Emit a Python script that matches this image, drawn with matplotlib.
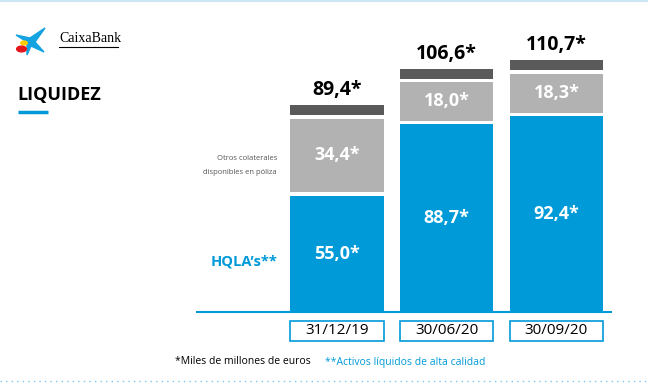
import numpy as np
import matplotlib.pyplot as plt
import matplotlib.transforms as mtrans
from matplotlib.patches import Rectangle, Polygon, Circle

# data (miles de millones de euros)
fechas = ["31/12/19", "30/06/20", "30/09/20"]
hqla = [55.0, 88.7, 92.4]
otros = [34.4, 18.0, 18.3]
totales = [89.4, 106.6, 110.7]

azul = "#009ad9"
gris = "#b2b2b2"
gris_osc = "#5a5a5a"

W, H = 648, 383
fig = plt.figure(figsize=(W / 100, H / 100), dpi=100)

def fx(px):
    return px / W

def fy(py):
    return 1 - py / H

# axes: baseline at y=312px, from x=196 to 612
ax = fig.add_axes([fx(196), fy(312), fx(612) - fx(196), (312 - 20) / H])
ax.set_xlim(-1.285, 2.506)
ax.set_ylim(0, 138)
ax.axis("off")

x = np.arange(len(fechas))
ancho = 0.85
hueco = 1.8
tapa = 4.6

hqla = np.array(hqla)
otros = np.array(otros)
ax.bar(x, hqla, width=ancho, color=azul)
ax.bar(x, otros, bottom=hqla + hueco, width=ancho, color=gris)
tope = hqla + otros + 2 * hueco
ax.bar(x, tapa, bottom=tope, width=ancho, color=gris_osc)

fnt = "Open Sans"
for i in range(len(fechas)):
    ax.text(x[i], hqla[i] / 2, f"{hqla[i]:.1f}*".replace(".", ","), ha="center", va="center",
            color="white", fontsize=13, fontweight="bold", family=fnt)
    ax.text(x[i], hqla[i] + hueco + otros[i] / 2, f"{otros[i]:.1f}*".replace(".", ","),
            ha="center", va="center", color="white", fontsize=13, fontweight="bold", family=fnt)
    ax.text(x[i], tope[i] + tapa + 2.5, f"{totales[i]:.1f}*".replace(".", ","),
            ha="center", va="bottom", color="black", fontsize=14, fontweight="bold", family=fnt)

# baseline
ax.plot([0, 1], [0, 0], transform=ax.transAxes, color=azul, lw=1.5, clip_on=False,
        solid_capstyle="butt")

# date boxes
tr = mtrans.blended_transform_factory(ax.transData, ax.transAxes)
for i, f in enumerate(fechas):
    ax.add_patch(Rectangle((x[i] - ancho / 2, -0.099), ancho, 0.068, transform=tr,
                           fill=False, edgecolor=azul, lw=1.2, clip_on=False))
    ax.text(x[i], -0.065, f, transform=tr, ha="center", va="center", fontsize=11,
            family=fnt, color="black")

# left labels
fig.text(fx(277), fy(158), "Otros colaterales", ha="right", va="center", fontsize=5.5,
         color="#555555", family=fnt)
fig.text(fx(277), fy(172), "disponibles en póliza", ha="right", va="center", fontsize=5.5,
         color="#555555", family=fnt)
fig.text(fx(277), fy(262), "HQLA’s**", ha="right", va="center", fontsize=10.5,
         color=azul, fontweight="bold", family=fnt)

# title
fig.text(fx(17), fy(95), "LIQUIDEZ", ha="left", va="center", fontsize=13,
         fontweight="bold", family=fnt, color="black")
fig.add_artist(plt.Line2D([fx(18), fx(48)], [fy(112), fy(112)], color=azul, lw=2.5,
                          solid_capstyle="butt"))

# logo
pts = [(16, 35), (30, 38), (45, 28), (35, 42), (44, 52), (31, 46), (27, 55), (27, 42)]
fig.add_artist(Polygon([(fx(a), fy(b)) for a, b in pts], closed=True, color="#13a3e0",
                       transform=fig.transFigure))
fig.add_artist(Circle((fx(24), fy(43)), 0.005, color="#ffcc00", transform=fig.transFigure))
fig.add_artist(Circle((fx(21.5), fy(49)), 0.0075, color="#e3151b", transform=fig.transFigure))
fig.text(fx(59), fy(39), "CaixaBank", ha="left", va="center", fontsize=10,
         family="Liberation Serif", color="black")
fig.add_artist(plt.Line2D([fx(59), fx(118)], [fy(46.5), fy(46.5)], color="black", lw=0.8))

# footer
fig.text(fx(175), fy(362), "*Miles de millones de euros", ha="left", va="center",
         fontsize=7.5, family=fnt, color="black")
fig.text(fx(325), fy(362), "**Activos líquidos de alta calidad", ha="left", va="center",
         fontsize=7.5, family=fnt, color=azul)

# decorative lines
fig.add_artist(plt.Line2D([0, 1], [fy(0.8), fy(0.8)], color="#cde6f3", lw=1.5))
fig.add_artist(plt.Line2D([0, 1], [fy(381), fy(381)], color="#7cc8ea", lw=1,
                          linestyle=(0, (1, 3))))

fig.savefig("out.png", dpi=100)
